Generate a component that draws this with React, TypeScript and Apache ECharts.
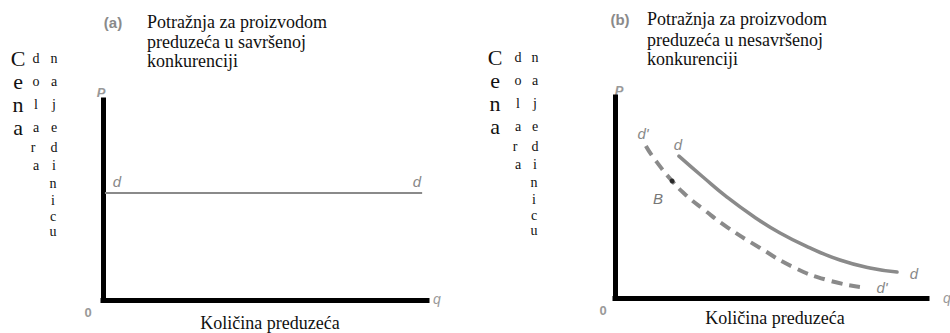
import React, { useEffect, useRef } from "react";
import * as echarts from "echarts";

// ---- data ----
const leftDemandX = [0.6, 98.5];
const leftDemandY = [53.5, 53.5];

const rightDemandX = [20.5, 28.2, 35.9, 44.2, 52.9, 62.5, 72.1, 81.7, 90.4];
const rightDemandY = [70.6, 60.2, 50.2, 40.8, 32.3, 24.9, 18.9, 14.9, 12.9];

const rightShiftedX = [9.9, 12.2, 18.3, 23.1, 28.2, 35.9, 46.5, 57.1, 67.9, 78.5];
const rightShiftedY = [75.6, 70.1, 58.2, 50.7, 44.3, 35.3, 24.9, 15.4, 9.0, 5.5];

const pointB = [18.3, 58.2];

// ---- texts ----
const titleA = ["Potražnja za proizvodom", "preduzeća u savršenoj", "konkurenciji"];
const titleB = ["Potražnja za proizvodom", "preduzeća u nesavršenoj", "konkurenciji"];
const xAxisTitle = "Količina preduzeća";
const yWord1 = "Cena";
const yWord2 = "dolara";
const yWord3 = "najedinicu";

const zip = (xs: number[], ys: number[]) => xs.map((x, i) => [x, ys[i]]);

const SERIF = "Liberation Serif";
const SANS = "Liberation Sans";
const GRAY = "#8a8a8a";

const rowYs = [58, 81, 104, 127, 147, 165, 183, 200, 216, 231];

function txt(
  text: string,
  x: number,
  y: number,
  opts: { size: number; family: string; fill: string; weight?: string; italic?: boolean; align?: string }
) {
  return {
    type: "text",
    x,
    y,
    style: {
      text,
      fontSize: opts.size,
      fontFamily: opts.family,
      fontWeight: opts.weight || "normal",
      fontStyle: opts.italic ? "italic" : "normal",
      fill: opts.fill,
      align: opts.align || "center",
      verticalAlign: "middle",
    },
  };
}

function yLabel(offsetX: number, dy: number, col1: number, col2: number, col3: number) {
  const els: any[] = [];
  yWord1.split("").forEach((ch, i) => {
    els.push(txt(ch, offsetX + col1, rowYs[i] + dy, { size: 22, family: SERIF, fill: "#111" }));
  });
  yWord2.split("").forEach((ch, i) => {
    els.push(txt(ch, offsetX + col2 - (i === 4 ? 3 : 0), rowYs[i] + dy, { size: 14, family: SERIF, fill: "#111" }));
  });
  yWord3.split("").forEach((ch, i) => {
    els.push(txt(ch, offsetX + col3 - (i >= 6 ? 1 : 0), rowYs[i] + dy, { size: 14, family: SERIF, fill: "#111" }));
  });
  return els;
}

export default function App() {
  const ref = useRef<HTMLDivElement>(null);
  useEffect(() => {
    if (!ref.current) return;
    const chart = echarts.init(ref.current, undefined, { renderer: "svg" });
    const axisLine = { show: true, onZero: false, lineStyle: { color: "#000", width: 5, cap: "square" } };
    const hidden = {
      axisTick: { show: false },
      axisLabel: { show: false },
      splitLine: { show: false },
    };
    const title = { size: 18, family: SERIF, fill: "#111", align: "left" };
    const small = { size: 15, family: SANS, fill: "#888", italic: true };
    const graphics: any[] = [
      ...yLabel(0, 0, 18, 36, 54),
      ...yLabel(477, -1, 18, 41, 58),
      txt("(a)", 113, 22, { size: 15, family: SANS, fill: "#8a8a8a", weight: "bold" }),
      txt("(b)", 620, 19, { size: 15, family: SANS, fill: "#8a8a8a", weight: "bold" }),
      ...titleA.map((t, i) => txt(t, 147, [22, 42, 61][i], title)),
      ...titleB.map((t, i) => txt(t, 647, [19, 40, 59][i], title)),
      txt(xAxisTitle, 270, 323, { size: 18, family: SERIF, fill: "#111" }),
      txt(xAxisTitle, 775, 318, { size: 18, family: SERIF, fill: "#111" }),
      txt("P", 101, 92, { size: 13, family: SANS, fill: "#999", weight: "bold", italic: true }),
      txt("0", 88, 312, { size: 13, family: SANS, fill: "#999", weight: "bold" }),
      txt("q", 437, 299, { ...small, size: 14, fill: "#999" }),
      txt("d", 117, 181, small),
      txt("d", 417, 181, small),
      txt("P", 619, 90, { size: 13, family: SANS, fill: "#999", weight: "bold", italic: true }),
      txt("0", 603, 310, { size: 13, family: SANS, fill: "#999", weight: "bold" }),
      txt("q", 947, 298, { ...small, size: 14, fill: "#999" }),
      txt("d'", 643, 133, small),
      txt("d", 678, 144, small),
      txt("B", 658, 198, { ...small, fill: "#777" }),
      txt("d", 914, 273, small),
      txt("d'", 882, 287, small),
    ];
    chart.setOption({
      animation: false,
      backgroundColor: "#fff",
      grid: [
        { left: 103, top: 100, width: 324, height: 200 },
        { left: 615, top: 97, width: 312, height: 201 },
      ],
      xAxis: [
        { type: "value", gridIndex: 0, min: 0, max: 100, axisLine, ...hidden },
        { type: "value", gridIndex: 1, min: 0, max: 100, axisLine, ...hidden },
      ],
      yAxis: [
        { type: "value", gridIndex: 0, min: 0, max: 100, axisLine, ...hidden },
        { type: "value", gridIndex: 1, min: 0, max: 100, axisLine, ...hidden },
      ],
      series: [
        {
          type: "line",
          xAxisIndex: 0,
          yAxisIndex: 0,
          data: zip(leftDemandX, leftDemandY),
          symbol: "none",
          lineStyle: { color: GRAY, width: 2 },
        },
        {
          type: "line",
          xAxisIndex: 1,
          yAxisIndex: 1,
          data: zip(rightDemandX, rightDemandY),
          smooth: true,
          symbol: "none",
          lineStyle: { color: GRAY, width: 3.5, cap: "round" },
        },
        {
          type: "line",
          xAxisIndex: 1,
          yAxisIndex: 1,
          data: zip(rightShiftedX, rightShiftedY),
          smooth: true,
          symbol: "none",
          lineStyle: { color: GRAY, width: 4, type: [11, 7] },
        },
        {
          type: "scatter",
          xAxisIndex: 1,
          yAxisIndex: 1,
          data: [pointB],
          symbolSize: 5,
          itemStyle: { color: "#111" },
          z: 5,
        },
      ],
      graphic: graphics,
    });
    return () => chart.dispose();
  }, []);
  return (
    <div
      ref={ref}
      style={{ position: "fixed", left: 0, top: 0, width: 950, height: 333, background: "#fff" }}
    />
  );
}
